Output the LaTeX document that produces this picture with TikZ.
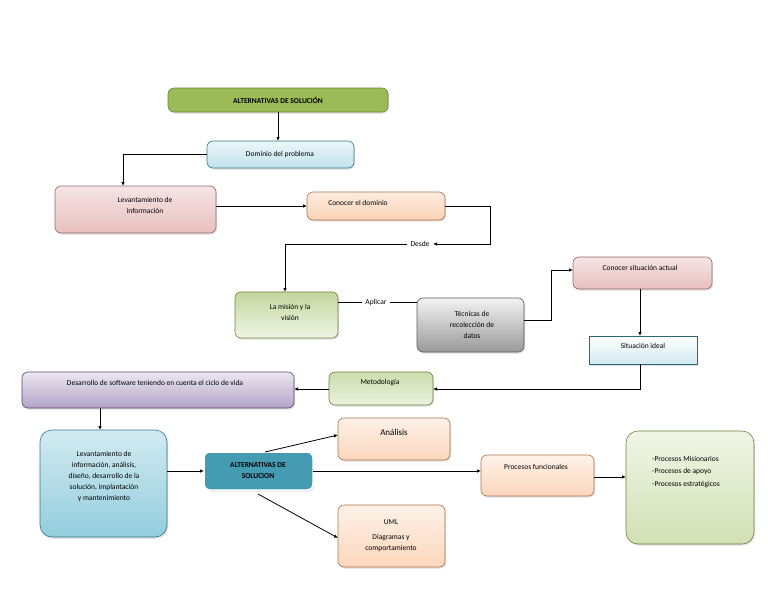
\documentclass[tikz,border=0pt]{standalone}
\usepackage{fontspec}
\setmainfont{Carlito}
\usetikzlibrary{arrows.meta,shadows}
\begin{document}
\begin{tikzpicture}[x=1pt,y=-1pt,
 bx/.style={draw=#1!70!black,line width=0.6pt,rounded corners=6pt,drop shadow={shadow xshift=1pt,shadow yshift=-1.5pt,opacity=0.25}},
 t/.style={font=\fontsize{7.5}{11}\selectfont,align=center},
 ar/.style={-{Latex[length=4pt,width=3.5pt]},line width=0.8pt},
 ln/.style={line width=0.8pt}]
\useasboundingbox (0,0) rectangle (768,594);
\definecolor{gr}{HTML}{9BBB59}\definecolor{bl}{HTML}{4BACC6}\definecolor{rd}{HTML}{D99594}
\definecolor{or}{HTML}{F7A56A}\definecolor{pu}{HTML}{8064A2}\definecolor{gy}{HTML}{808080}
\path[bx=gr,fill=gr] (168,88) rectangle (388,112);
\node[t,font=\fontsize{7.5}{9}\selectfont\bfseries] (top) at (278,100) {ALTERNATIVAS DE SOLUCIÓN};
\path[bx=bl,top color=bl!10,bottom color=bl!35] (207,141) rectangle (354,168);
\node[t] (dom) at (280,154) {Dominio del problema};
\path[bx=rd,top color=rd!25,bottom color=rd!60] (55,186) rectangle (216,233);
\node[t] (lev) at (145,205) {Levantamiento de\\información};
\path[bx=or,top color=or!20,bottom color=or!50] (307,192) rectangle (445,220);
\node[t] (cd) at (358,203) {Conocer el dominio};
\node[t] (desde) at (420,244) {Desde};
\path[bx=gr,top color=gr!60,bottom color=gr!15] (235,292) rectangle (338,338);
\node[t] (mis) at (290,312) {La misión y la\\visión};
\node[t] (apl) at (376,302) {Aplicar};
\path[bx=gy,top color=gy!10,bottom color=gy!80] (417,298) rectangle (524,352);
\node[t] (tec) at (472,325) {Técnicas de\\recolección de\\datos};
\path[bx=rd,top color=rd!25,bottom color=rd!60] (573,257) rectangle (712,289);
\node[t] (csa) at (640,268) {Conocer situación actual};
\path[bx=bl,draw=bl!60!black,rounded corners=0pt,top color=white,bottom color=bl!25] (589,336) rectangle (697,364);
\node[t] (si) at (643,346) {Situación ideal};
\path[bx=gr,top color=gr!50,bottom color=gr!20] (329,372) rectangle (433,405);
\node[t] (met) at (380,383) {Metodología};
\path[bx=pu,top color=pu!15,bottom color=pu!60] (22,372) rectangle (294,408);
\node[t] (des) at (155,383) {Desarrollo de software teniendo en cuenta el ciclo de vida};
\path[bx=bl,rounded corners=12pt,top color=bl!25,bottom color=bl!60] (40,430) rectangle (167,537);
\node[t] (lev2) at (104,476) {Levantamiento de\\información, análisis,\\diseño, desarrollo de la\\solución, implantación\\y mantenimiento};
\path[bx=bl,fill=bl!90!black,draw=white,line width=1.5pt] (204,452) rectangle (313,490);
\node[t,font=\fontsize{7.5}{11}\selectfont\bfseries] (alt) at (258,471) {ALTERNATIVAS DE\\SOLUCION};
\path[bx=or,top color=or!15,bottom color=or!45] (338,418) rectangle (450,460);
\node[t,font=\fontsize{9}{11}\selectfont] (ana) at (394,432) {Análisis};
\path[bx=or,top color=or!15,bottom color=or!45] (338,505) rectangle (445,567);
\node[t] (uml) at (391,536) {UML\\[4pt]Diagramas y\\comportamiento};
\path[bx=or,top color=or!15,bottom color=or!45] (481,455) rectangle (594,496);
\node[t] (pf) at (536,467) {Procesos funcionales};
\path[bx=gr,rounded corners=12pt,top color=gr!15,bottom color=gr!45] (626,431) rectangle (754,544);
\node[t,align=left,font=\fontsize{7.5}{12.5}\selectfont] (lst) at (686,472) {-Procesos Misionarios\\-Procesos de apoyo\\-Procesos estratégicos};
% connectors
\coordinate (a1) at (278,112); \coordinate (a2) at (278,141);
\draw[ar] (a1) -- (a2);
\coordinate (d1) at (207,154); \coordinate (l1) at (123,186);
\draw[ar] (d1) -| (l1);
\coordinate (l2) at (216,206); \coordinate (c1) at (307,206);
\draw[ar] (l2) -- (c1);
\coordinate (c2) at (445,206); \coordinate (c3) at (490,244);
\draw[ar] (c2) -| (c3) -- (desde.east);
\coordinate (m1) at (285,292);
\draw[ar] (desde.west) -| (m1);
\coordinate (m2) at (338,302); \coordinate (t1) at (417,302);
\draw[ln] (m2) -- (apl.west); \draw[ln] (apl.east) -- (t1);
\coordinate (t2) at (524,320); \coordinate (s1) at (551,270); \coordinate (s2) at (573,270);
\draw[ar] (t2) -| (s1) -- (s2);
\coordinate (s3) at (640,289); \coordinate (s4) at (640,336);
\draw[ar] (s3) -- (s4);
\coordinate (s5) at (640,364); \coordinate (s6) at (433,389);
\draw[ar] (s5) |- (s6);
\coordinate (m3) at (329,389); \coordinate (p1) at (294,389);
\draw[ar] (m3) -- (p1);
\coordinate (p2) at (100,408); \coordinate (p3) at (100,430);
\draw[ar] (p2) -- (p3);
\coordinate (v1) at (167,471); \coordinate (v2) at (204,471);
\draw[ar] (v1) -- (v2);
\coordinate (w1) at (265,452); \coordinate (w2) at (338,435);
\draw[ar] (w1) -- (w2);
\coordinate (w3) at (258,494); \coordinate (w4) at (338,538);
\draw[ar] (w3) -- (w4);
\coordinate (w5) at (313,471); \coordinate (w6) at (481,471);
\draw[ar] (w5) -- (w6);
\coordinate (w7) at (594,477); \coordinate (w8) at (626,477);
\draw[ar] (w7) -- (w8);
\end{tikzpicture}
\end{document}
